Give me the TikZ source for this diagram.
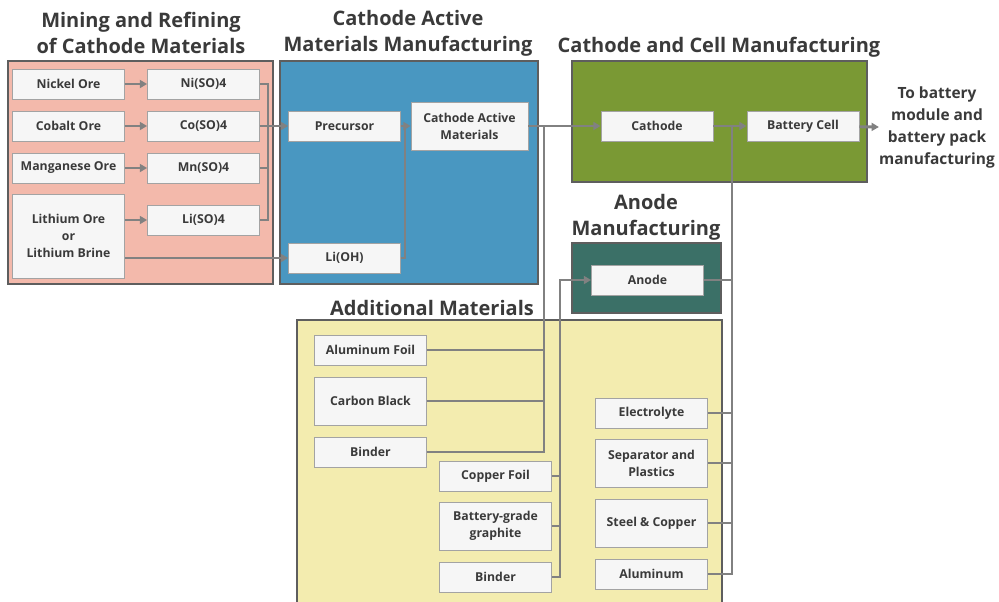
\documentclass[tikz,border=0pt]{standalone}
\usepackage{fontspec}
\setmainfont{Open Sans}
\usepackage{tikz}
\usetikzlibrary{%
  arrows.meta,% wg. Triangle tips
  positioning%
}
\definecolor{MiningRed}{HTML}{F3B9AB}
\definecolor{CamBlue}{HTML}{4997C1}
\definecolor{CellGreen}{HTML}{7A9934}
\definecolor{AnodeTeal}{HTML}{3B7067}
\definecolor{AddYellow}{HTML}{F3ECAF}
\definecolor{PanelLine}{HTML}{5E5E5E}
\definecolor{BoxFill}{HTML}{F6F6F6}
\definecolor{BoxLine}{HTML}{A3A3A3}
\definecolor{TextGray}{HTML}{3A3A3A}
\definecolor{FlowGray}{HTML}{818181}

\begin{document}
\begin{tikzpicture}[x=0.75pt,y=-0.75pt]
  \useasboundingbox (0,0) rectangle (999,601);
  \tikzset{Panel/.style = {draw=PanelLine, line width=0.9pt}}
  \tikzset{Title/.style = {text=TextGray, align=center, inner sep=0pt,
      font=\bfseries\fontsize{15}{19.5}\selectfont}}
  \tikzset{Box/.style = {draw=BoxLine, fill=BoxFill, text=TextGray, align=center,
      line width=0.6pt, inner sep=0pt, minimum width=84pt, minimum height=22.5pt,
      font=\bfseries\fontsize{9.2}{12.75}\selectfont}}
  \tikzset{TallBox/.style = {Box, minimum height=36pt}}

  % stage panels
  \path[Panel, fill=MiningRed] (8,61)    rectangle (273,284);
  \path[Panel, fill=CamBlue]   (280,61)  rectangle (538,284);
  \path[Panel, fill=CellGreen] (572,61)  rectangle (867,182);
  \path[Panel, fill=AnodeTeal] (572,243) rectangle (721,313);
  \path[Panel, fill=AddYellow] (297,320) rectangle (722,606);

  % stage titles
  \node[Title] (tmining) at (141,33)  {Mining and Refining\\of Cathode Materials};
  \node[Title] (tcam)    at (408,33)  {Cathode Active\\Materials Manufacturing};
  \node[Title] (tcell)   at (719,47)  {Cathode and Cell Manufacturing};
  \node[Title] (tanode)  at (646,217) {Anode\\Manufacturing};
  \node[Title] (tadd)    at (432,308) {Additional Materials};
  \node[Title, font=\bfseries\fontsize{11.6}{16.5}\selectfont]
               (tobat)   at (937,127) {To battery\\module and\\battery pack\\manufacturing};

  % mining and refining
  \node[Box] (nickel) at (68.5,84)  {Nickel Ore};
  \node[Box] (cobalt) at (68.5,126) {Cobalt Ore};
  \node[Box] (mangan) at (68.5,168) {Manganese Ore};
  \node[Box, minimum height=63pt] (lith) at (68.5,236) {Lithium Ore\\or\\Lithium Brine};
  \node[Box] (niso)   at (203.5,84)  {Ni(SO)4};
  \node[Box] (coso)   at (203.5,126) {Co(SO)4};
  \node[Box] (mnso)   at (203.5,168) {Mn(SO)4};
  \node[Box] (liso)   at (203.5,220) {Li(SO)4};

  % cathode active materials
  \node[Box] (precursor) at (344.5,126) {Precursor};
  \node[Box] (lioh)      at (344.5,258) {Li(OH)};
  \node[TallBox, minimum width=87.75pt] (cam) at (469.5,126) {Cathode Active\\Materials};

  % cathode, anode and cell
  \node[Box] (cathode) at (657,126)   {Cathode};
  \node[Box] (cell)    at (803,126)   {Battery Cell};
  \node[Box] (anode)   at (647.5,280) {Anode};

  % additional materials
  \node[Box]     (alfoil)  at (370.5,350) {Aluminum Foil};
  \node[TallBox] (cblack)  at (370.5,401) {Carbon Black};
  \node[Box]     (binderc) at (370.5,452) {Binder};
  \node[Box]     (cufoil)  at (495.5,476) {Copper Foil};
  \node[TallBox] (graph)   at (495.5,526) {Battery-grade\\graphite};
  \node[Box]     (bindera) at (495.5,577) {Binder};
  \node[Box]     (electro) at (651.5,413) {Electrolyte};
  \node[TallBox] (separ)   at (651.5,463) {Separator and\\Plastics};
  \node[TallBox] (steel)   at (651.5,523) {Steel \& Copper};
  \node[Box]     (alu)     at (651.5,574) {Aluminum};

  % collecting lines
  \coordinate (sbus) at (268,126);
  \coordinate (lbus) at (405,126);
  \coordinate (cbus) at (544,126);
  \coordinate (nbus) at (560,280);
  \coordinate (bbus) at (732,126);

  % flows with arrows
  \tikzset{Flow/.style = {draw=FlowGray, line width=2.2pt,
      -{Triangle[length=5.5pt, width=6pt]}}}
  \draw[Flow] (nickel) -- (niso);
  \draw[Flow] (cobalt) -- (coso);
  \draw[Flow] (mangan) -- (mnso);
  \draw[Flow] (liso.west -| lith.east) -- (liso.west);
  \draw[Flow] (lioh.west -| lith.east) -- (lioh.west);
  \draw[Flow] (coso) -- (precursor);
  \draw[Flow] (precursor) -- (cam);
  \draw[Flow] (cam) -- (cathode);
  \draw[Flow] (cathode) -- (cell);
  \draw[Flow] (cell) -- (tobat.west);
  \draw[Flow] (bindera.east) -| (nbus) -- (anode.west);

  % lines without arrows
  \tikzset{Flow/.style = {draw=FlowGray, line width=2.2pt}}
  \draw[Flow] (niso.east) -| (sbus) |- (liso.east);
  \draw[Flow] (mnso.east) -- (mnso.east -| sbus);
  \draw[Flow] (lioh.east) -| (lbus);
  \draw[Flow] (binderc.east) -| (cbus);
  \draw[Flow] (alfoil.east) -- (alfoil.east -| cbus);
  \draw[Flow] (cblack.east) -- (cblack.east -| cbus);
  \draw[Flow] (cufoil.east) -- (cufoil.east -| nbus);
  \draw[Flow] (graph.east) -- (graph.east -| nbus);
  \draw[Flow] (alu.east) -| (bbus);
  \draw[Flow] (electro.east) -- (electro.east -| bbus);
  \draw[Flow] (separ.east) -- (separ.east -| bbus);
  \draw[Flow] (steel.east) -- (steel.east -| bbus);
  \draw[Flow] (anode.east) -- (anode.east -| bbus);
\end{tikzpicture}
\end{document}
